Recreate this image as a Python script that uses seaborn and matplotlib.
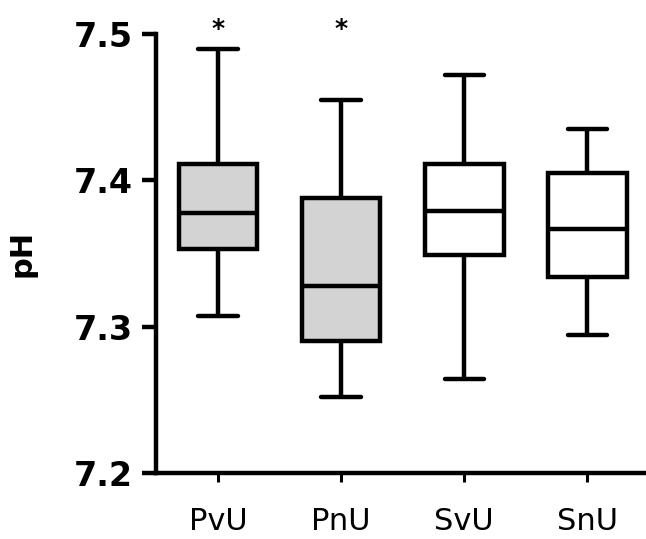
import numpy as np
import matplotlib
matplotlib.use("Agg")
import matplotlib.pyplot as plt
import seaborn as sns
import pandas as pd

sns.set_style("ticks")
plt.rcParams['font.family'] = ['DejaVu Sans']

# Grupos e estatísticas (mín, Q1, mediana, Q3, máx)
groups = ['PvU', 'PnU', 'SvU', 'SnU']
ph_min = [7.307, 7.252, 7.264, 7.294]
ph_q1 = [7.353, 7.290, 7.349, 7.334]
ph_med = [7.378, 7.328, 7.379, 7.367]
ph_q3 = [7.411, 7.388, 7.411, 7.405]
ph_max = [7.490, 7.455, 7.472, 7.435]
fill_colors = ['#d3d3d3', '#d3d3d3', 'white', 'white']
significant = [True, True, False, False]
star_y = 7.4985

# Cinco valores por grupo -> quartis exatos com whis=(0, 100)
rows = []
for i, g in enumerate(groups):
    for v in (ph_min[i], ph_q1[i], ph_med[i], ph_q3[i], ph_max[i]):
        rows.append({'grupo': g, 'pH': v})
df = pd.DataFrame(rows)

fig = plt.figure(figsize=(6.46, 5.39), dpi=100)
ax = fig.add_axes([0.2422, 0.1224, 0.7584, 0.8146])

sns.boxplot(data=df, x='grupo', y='pH', hue='grupo', order=groups,
            palette=dict(zip(groups, fill_colors)), legend=False,
            whis=(0, 100), width=0.64, saturation=1, linecolor='black',
            linewidth=3.2, ax=ax)

for i, s in enumerate(significant):
    if s:
        ax.text(i, star_y, '*', ha='center', va='baseline', fontsize=18,
                fontweight='bold', color='black')

ax.set_xlim(-0.5, 3.48)
ax.set_ylim(7.2, 7.5)
ax.set_yticks([7.2, 7.3, 7.4, 7.5])
ax.set_yticklabels(['7.2', '7.3', '7.4', '7.5'], fontweight='bold')
ax.set_xlabel('')
ax.set_ylabel('pH', fontsize=22, fontweight='bold', color='black')
ax.yaxis.set_label_coords(-0.244, 0.5)

sns.despine(ax=ax)
ax.spines['left'].set_bounds(7.2, 7.5)
for sp in ('left', 'bottom'):
    ax.spines[sp].set_linewidth(3.2)
    ax.spines[sp].set_color('black')
    ax.spines[sp].set_capstyle('projecting')

ax.tick_params(axis='y', length=10, width=3.2, pad=7, labelsize=24,
               colors='black')
ax.tick_params(axis='x', length=6.5, width=2.2, pad=18, labelsize=22,
               colors='black')
ax.set_facecolor('white')

fig.savefig('out.png', dpi=100)
